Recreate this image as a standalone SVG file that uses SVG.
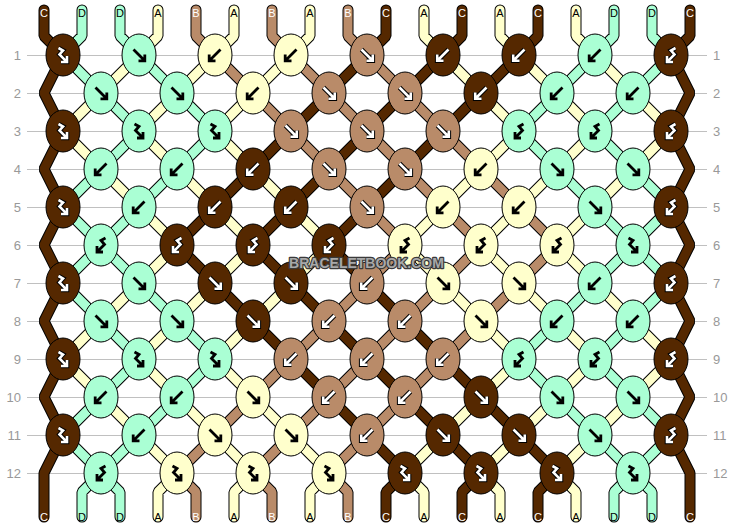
<svg xmlns="http://www.w3.org/2000/svg" xmlns:xlink="http://www.w3.org/1999/xlink" width="734" height="528" viewBox="0 0 734 528">
<style>
.C{fill:#552800}.B{fill:#b98b69}.A{fill:#ffffcc}.D{fill:#aaffd4}
.o{fill:none;stroke:#000;stroke-width:11;stroke-linejoin:bevel;stroke-linecap:round}
.s{fill:none;stroke-width:9;stroke-linejoin:bevel;stroke-linecap:round}
.sC{stroke:#552800}.sB{stroke:#b98b69}.sA{stroke:#ffffcc}.sD{stroke:#aaffd4}
.rl{stroke:#c0c0c0;stroke-width:1}
.rn{font-family:"Liberation Sans",Arial,sans-serif;font-size:13px;fill:#999}
.lb{font-family:"Liberation Sans",Arial,sans-serif;font-size:11px;text-anchor:middle}
.lw{fill:#fff}.lk{fill:#000}
.wm{font-family:"Liberation Sans",Arial,sans-serif;font-size:14px;font-weight:bold;text-anchor:middle;fill:#a8a8a8;stroke:#3a3a3a;stroke-width:2.4;paint-order:stroke;stroke-linejoin:round}
</style>
<defs>
<ellipse id="e" rx="17" ry="21" stroke="#000" stroke-width="1"/>
<path id="F" fill="none" stroke-linejoin="miter" d="M-5.5,-5.5L4.5,4.5M5.8,-0.5V5.8H-0.5"/>
<path id="B" fill="none" stroke-linejoin="miter" d="M5.5,-5.5L-4.5,4.5M-5.8,-0.5V5.8H0.5"/>
<path id="FB" fill="none" stroke-linejoin="miter" d="M-4.5,-7L0,-4.5L-3.5,-0.5L2.8,5.8M4,1V7H-2"/>
<path id="BF" fill="none" stroke-linejoin="miter" d="M4.5,-7L0,-4.5L3.5,-0.5L-2.8,5.8M-4,1V7H2"/>
<g id="kF"><use xlink:href="#F" stroke="#000" stroke-width="2.8"/></g>
<g id="kB"><use xlink:href="#B" stroke="#000" stroke-width="2.8"/></g>
<g id="kFB"><use xlink:href="#FB" stroke="#000" stroke-width="2.8"/></g>
<g id="kBF"><use xlink:href="#BF" stroke="#000" stroke-width="2.8"/></g>
<g id="wF"><use xlink:href="#F" stroke="#000" stroke-width="4.6"/><use xlink:href="#F" stroke="#fff" stroke-width="2.6"/></g>
<g id="wB"><use xlink:href="#B" stroke="#000" stroke-width="4.6"/><use xlink:href="#B" stroke="#fff" stroke-width="2.6"/></g>
<g id="wFB"><use xlink:href="#FB" stroke="#000" stroke-width="4.6"/><use xlink:href="#FB" stroke="#fff" stroke-width="2.6"/></g>
<g id="wBF"><use xlink:href="#BF" stroke="#000" stroke-width="4.6"/><use xlink:href="#BF" stroke="#fff" stroke-width="2.6"/></g>
<path id="tE" d="M44,10V36L63,55L44,93L63,131L44,169L63,207L44,245L63,283L44,321L63,359L44,397L63,435L44,473V517M690,10V36L671,55L690,93L671,131L690,169L671,207L690,245L671,283L690,321L671,359L690,397L671,435L690,473V517"/>
<path id="tC" d="M367,55l-38,38M443,55l-38,38M519,55l-38,38M329,93l-38,38M405,93l-38,38M481,93l-38,38M291,131l-38,38M367,131l-38,38M443,131l-38,38M253,169l-38,38M329,169l-38,38M405,169l-38,38M215,207l-38,38M291,207l-38,38M367,207l-38,38M177,245l38,38M253,245l38,38M329,245l38,38M215,283l38,38M291,283l38,38M367,283l38,38M253,321l38,38M329,321l38,38M405,321l38,38M291,359l38,38M367,359l38,38M443,359l38,38M329,397l38,38M405,397l38,38M481,397l38,38M367,435l38,38M443,435l38,38M519,435l38,38M386,10V36L367,55M462,10V36L443,55M538,10V36L519,55M405,473L386,492V517M481,473L462,492V517M557,473L538,492V517"/>
<path id="tB" d="M215,55l38,38M291,55l38,38M367,55l38,38M253,93l38,38M329,93l38,38M405,93l38,38M291,131l38,38M367,131l38,38M443,131l38,38M329,169l38,38M405,169l38,38M481,169l38,38M367,207l38,38M443,207l38,38M519,207l38,38M405,245l-38,38M481,245l-38,38M557,245l-38,38M367,283l-38,38M443,283l-38,38M519,283l-38,38M329,321l-38,38M405,321l-38,38M481,321l-38,38M291,359l-38,38M367,359l-38,38M443,359l-38,38M253,397l-38,38M329,397l-38,38M405,397l-38,38M215,435l-38,38M291,435l-38,38M367,435l-38,38M196,10V36L215,55M272,10V36L291,55M348,10V36L367,55M177,473L196,492V517M253,473L272,492V517M329,473L348,492V517"/>
<path id="tA" d="M139,55l-38,38M215,55l-38,38M291,55l-38,38M443,55l38,38M519,55l38,38M595,55l38,38M101,93l-38,38M177,93l-38,38M253,93l-38,38M481,93l38,38M557,93l38,38M633,93l38,38M63,131l38,38M139,131l38,38M215,131l38,38M519,131l-38,38M595,131l-38,38M671,131l-38,38M101,169l38,38M177,169l38,38M253,169l38,38M481,169l-38,38M557,169l-38,38M633,169l-38,38M139,207l38,38M215,207l38,38M291,207l38,38M443,207l-38,38M519,207l-38,38M595,207l-38,38M177,245l-38,38M253,245l-38,38M329,245l-38,38M405,245l38,38M481,245l38,38M557,245l38,38M139,283l-38,38M215,283l-38,38M291,283l-38,38M443,283l38,38M519,283l38,38M595,283l38,38M101,321l-38,38M177,321l-38,38M253,321l-38,38M481,321l38,38M557,321l38,38M633,321l38,38M63,359l38,38M139,359l38,38M215,359l38,38M519,359l-38,38M595,359l-38,38M671,359l-38,38M101,397l38,38M177,397l38,38M253,397l38,38M481,397l-38,38M557,397l-38,38M633,397l-38,38M139,435l38,38M215,435l38,38M291,435l38,38M443,435l-38,38M519,435l-38,38M595,435l-38,38M158,10V36L139,55M234,10V36L215,55M310,10V36L291,55M424,10V36L443,55M500,10V36L519,55M576,10V36L595,55M177,473L158,492V517M253,473L234,492V517M329,473L310,492V517M405,473L424,492V517M481,473L500,492V517M557,473L576,492V517"/>
<path id="tD" d="M63,55l38,38M139,55l38,38M595,55l-38,38M671,55l-38,38M101,93l38,38M177,93l38,38M557,93l-38,38M633,93l-38,38M139,131l-38,38M215,131l-38,38M519,131l38,38M595,131l38,38M101,169l-38,38M177,169l-38,38M557,169l38,38M633,169l38,38M63,207l38,38M139,207l-38,38M595,207l38,38M671,207l-38,38M101,245l-38,38M101,245l38,38M633,245l-38,38M633,245l38,38M63,283l38,38M139,283l38,38M595,283l-38,38M671,283l-38,38M101,321l38,38M177,321l38,38M557,321l-38,38M633,321l-38,38M139,359l-38,38M215,359l-38,38M519,359l38,38M595,359l38,38M101,397l-38,38M177,397l-38,38M557,397l38,38M633,397l38,38M63,435l38,38M139,435l-38,38M595,435l38,38M671,435l-38,38M82,10V36L63,55M120,10V36L139,55M614,10V36L595,55M652,10V36L671,55M101,473L82,492V517M101,473L120,492V517M633,473L614,492V517M633,473L652,492V517"/>
</defs>
<rect width="734" height="528" fill="#fff"/>
<g id="rows">
<path class="rl" d="M27,55.5H707M27,93.5H707M27,131.5H707M27,169.5H707M27,207.5H707M27,245.5H707M27,283.5H707M27,321.5H707M27,359.5H707M27,397.5H707M27,435.5H707M27,473.5H707"/>
<g class="rn" text-anchor="end"><text x="21" y="60">1</text><text x="21" y="98">2</text><text x="21" y="136">3</text><text x="21" y="174">4</text><text x="21" y="212">5</text><text x="21" y="250">6</text><text x="21" y="288">7</text><text x="21" y="326">8</text><text x="21" y="364">9</text><text x="21" y="402">10</text><text x="21" y="440">11</text><text x="21" y="478">12</text></g>
<g class="rn"><text x="713" y="60">1</text><text x="713" y="98">2</text><text x="713" y="136">3</text><text x="713" y="174">4</text><text x="713" y="212">5</text><text x="713" y="250">6</text><text x="713" y="288">7</text><text x="713" y="326">8</text><text x="713" y="364">9</text><text x="713" y="402">10</text><text x="713" y="440">11</text><text x="713" y="478">12</text></g>
</g>
<g id="connectors">
<use xlink:href="#tE" class="o"/><use xlink:href="#tC" class="o"/><use xlink:href="#tB" class="o"/><use xlink:href="#tA" class="o"/><use xlink:href="#tD" class="o"/>
<use xlink:href="#tE" class="s sC"/><use xlink:href="#tC" class="s sC"/><use xlink:href="#tB" class="s sB"/><use xlink:href="#tA" class="s sA"/><use xlink:href="#tD" class="s sD"/>
</g>
<g id="string-labels" class="lb">
<text class="lw" x="44" y="17">C</text><text class="lk" x="82" y="17">D</text><text class="lk" x="120" y="17">D</text><text class="lk" x="158" y="17">A</text><text class="lw" x="196" y="17">B</text><text class="lk" x="234" y="17">A</text><text class="lw" x="272" y="17">B</text><text class="lk" x="310" y="17">A</text><text class="lw" x="348" y="17">B</text><text class="lw" x="386" y="17">C</text><text class="lk" x="424" y="17">A</text><text class="lw" x="462" y="17">C</text><text class="lk" x="500" y="17">A</text><text class="lw" x="538" y="17">C</text><text class="lk" x="576" y="17">A</text><text class="lk" x="614" y="17">D</text><text class="lk" x="652" y="17">D</text><text class="lw" x="690" y="17">C</text>
<text class="lw" x="44" y="521">C</text><text class="lk" x="82" y="521">D</text><text class="lk" x="120" y="521">D</text><text class="lk" x="158" y="521">A</text><text class="lw" x="196" y="521">B</text><text class="lk" x="234" y="521">A</text><text class="lw" x="272" y="521">B</text><text class="lk" x="310" y="521">A</text><text class="lw" x="348" y="521">B</text><text class="lw" x="386" y="521">C</text><text class="lk" x="424" y="521">A</text><text class="lw" x="462" y="521">C</text><text class="lk" x="500" y="521">A</text><text class="lw" x="538" y="521">C</text><text class="lk" x="576" y="521">A</text><text class="lk" x="614" y="521">D</text><text class="lk" x="652" y="521">D</text><text class="lw" x="690" y="521">C</text>
</g>
<g id="knots">
<g id="k1-1" transform="translate(63,55)"><use xlink:href="#e" class="C"/><use xlink:href="#wFB"/></g>
<g id="k1-2" transform="translate(139,55)"><use xlink:href="#e" class="D"/><use xlink:href="#kF"/></g>
<g id="k1-3" transform="translate(215,55)"><use xlink:href="#e" class="A"/><use xlink:href="#kB"/></g>
<g id="k1-4" transform="translate(291,55)"><use xlink:href="#e" class="A"/><use xlink:href="#kB"/></g>
<g id="k1-5" transform="translate(367,55)"><use xlink:href="#e" class="B"/><use xlink:href="#wF"/></g>
<g id="k1-6" transform="translate(443,55)"><use xlink:href="#e" class="C"/><use xlink:href="#wB"/></g>
<g id="k1-7" transform="translate(519,55)"><use xlink:href="#e" class="C"/><use xlink:href="#wB"/></g>
<g id="k1-8" transform="translate(595,55)"><use xlink:href="#e" class="D"/><use xlink:href="#kB"/></g>
<g id="k1-9" transform="translate(671,55)"><use xlink:href="#e" class="C"/><use xlink:href="#wBF"/></g>
<g id="k2-1" transform="translate(101,93)"><use xlink:href="#e" class="D"/><use xlink:href="#kF"/></g>
<g id="k2-2" transform="translate(177,93)"><use xlink:href="#e" class="D"/><use xlink:href="#kF"/></g>
<g id="k2-3" transform="translate(253,93)"><use xlink:href="#e" class="A"/><use xlink:href="#kB"/></g>
<g id="k2-4" transform="translate(329,93)"><use xlink:href="#e" class="B"/><use xlink:href="#wF"/></g>
<g id="k2-5" transform="translate(405,93)"><use xlink:href="#e" class="B"/><use xlink:href="#wF"/></g>
<g id="k2-6" transform="translate(481,93)"><use xlink:href="#e" class="C"/><use xlink:href="#wB"/></g>
<g id="k2-7" transform="translate(557,93)"><use xlink:href="#e" class="D"/><use xlink:href="#kB"/></g>
<g id="k2-8" transform="translate(633,93)"><use xlink:href="#e" class="D"/><use xlink:href="#kB"/></g>
<g id="k3-1" transform="translate(63,131)"><use xlink:href="#e" class="C"/><use xlink:href="#wFB"/></g>
<g id="k3-2" transform="translate(139,131)"><use xlink:href="#e" class="D"/><use xlink:href="#kFB"/></g>
<g id="k3-3" transform="translate(215,131)"><use xlink:href="#e" class="D"/><use xlink:href="#kFB"/></g>
<g id="k3-4" transform="translate(291,131)"><use xlink:href="#e" class="B"/><use xlink:href="#wF"/></g>
<g id="k3-5" transform="translate(367,131)"><use xlink:href="#e" class="B"/><use xlink:href="#wF"/></g>
<g id="k3-6" transform="translate(443,131)"><use xlink:href="#e" class="B"/><use xlink:href="#wF"/></g>
<g id="k3-7" transform="translate(519,131)"><use xlink:href="#e" class="D"/><use xlink:href="#kBF"/></g>
<g id="k3-8" transform="translate(595,131)"><use xlink:href="#e" class="D"/><use xlink:href="#kBF"/></g>
<g id="k3-9" transform="translate(671,131)"><use xlink:href="#e" class="C"/><use xlink:href="#wBF"/></g>
<g id="k4-1" transform="translate(101,169)"><use xlink:href="#e" class="D"/><use xlink:href="#kB"/></g>
<g id="k4-2" transform="translate(177,169)"><use xlink:href="#e" class="D"/><use xlink:href="#kB"/></g>
<g id="k4-3" transform="translate(253,169)"><use xlink:href="#e" class="C"/><use xlink:href="#wB"/></g>
<g id="k4-4" transform="translate(329,169)"><use xlink:href="#e" class="B"/><use xlink:href="#wF"/></g>
<g id="k4-5" transform="translate(405,169)"><use xlink:href="#e" class="B"/><use xlink:href="#wF"/></g>
<g id="k4-6" transform="translate(481,169)"><use xlink:href="#e" class="A"/><use xlink:href="#kB"/></g>
<g id="k4-7" transform="translate(557,169)"><use xlink:href="#e" class="D"/><use xlink:href="#kF"/></g>
<g id="k4-8" transform="translate(633,169)"><use xlink:href="#e" class="D"/><use xlink:href="#kF"/></g>
<g id="k5-1" transform="translate(63,207)"><use xlink:href="#e" class="C"/><use xlink:href="#wFB"/></g>
<g id="k5-2" transform="translate(139,207)"><use xlink:href="#e" class="D"/><use xlink:href="#kB"/></g>
<g id="k5-3" transform="translate(215,207)"><use xlink:href="#e" class="C"/><use xlink:href="#wB"/></g>
<g id="k5-4" transform="translate(291,207)"><use xlink:href="#e" class="C"/><use xlink:href="#wB"/></g>
<g id="k5-5" transform="translate(367,207)"><use xlink:href="#e" class="B"/><use xlink:href="#wF"/></g>
<g id="k5-6" transform="translate(443,207)"><use xlink:href="#e" class="A"/><use xlink:href="#kB"/></g>
<g id="k5-7" transform="translate(519,207)"><use xlink:href="#e" class="A"/><use xlink:href="#kB"/></g>
<g id="k5-8" transform="translate(595,207)"><use xlink:href="#e" class="D"/><use xlink:href="#kF"/></g>
<g id="k5-9" transform="translate(671,207)"><use xlink:href="#e" class="C"/><use xlink:href="#wBF"/></g>
<g id="k6-1" transform="translate(101,245)"><use xlink:href="#e" class="D"/><use xlink:href="#kBF"/></g>
<g id="k6-2" transform="translate(177,245)"><use xlink:href="#e" class="C"/><use xlink:href="#wBF"/></g>
<g id="k6-3" transform="translate(253,245)"><use xlink:href="#e" class="C"/><use xlink:href="#wBF"/></g>
<g id="k6-4" transform="translate(329,245)"><use xlink:href="#e" class="C"/><use xlink:href="#wBF"/></g>
<g id="k6-5" transform="translate(405,245)"><use xlink:href="#e" class="A"/><use xlink:href="#kBF"/></g>
<g id="k6-6" transform="translate(481,245)"><use xlink:href="#e" class="A"/><use xlink:href="#kBF"/></g>
<g id="k6-7" transform="translate(557,245)"><use xlink:href="#e" class="A"/><use xlink:href="#kBF"/></g>
<g id="k6-8" transform="translate(633,245)"><use xlink:href="#e" class="D"/><use xlink:href="#kFB"/></g>
<g id="k7-1" transform="translate(63,283)"><use xlink:href="#e" class="C"/><use xlink:href="#wFB"/></g>
<g id="k7-2" transform="translate(139,283)"><use xlink:href="#e" class="D"/><use xlink:href="#kF"/></g>
<g id="k7-3" transform="translate(215,283)"><use xlink:href="#e" class="C"/><use xlink:href="#wF"/></g>
<g id="k7-4" transform="translate(291,283)"><use xlink:href="#e" class="C"/><use xlink:href="#wF"/></g>
<g id="k7-5" transform="translate(367,283)"><use xlink:href="#e" class="B"/><use xlink:href="#wB"/></g>
<g id="k7-6" transform="translate(443,283)"><use xlink:href="#e" class="A"/><use xlink:href="#kF"/></g>
<g id="k7-7" transform="translate(519,283)"><use xlink:href="#e" class="A"/><use xlink:href="#kF"/></g>
<g id="k7-8" transform="translate(595,283)"><use xlink:href="#e" class="D"/><use xlink:href="#kB"/></g>
<g id="k7-9" transform="translate(671,283)"><use xlink:href="#e" class="C"/><use xlink:href="#wBF"/></g>
<g id="k8-1" transform="translate(101,321)"><use xlink:href="#e" class="D"/><use xlink:href="#kF"/></g>
<g id="k8-2" transform="translate(177,321)"><use xlink:href="#e" class="D"/><use xlink:href="#kF"/></g>
<g id="k8-3" transform="translate(253,321)"><use xlink:href="#e" class="C"/><use xlink:href="#wF"/></g>
<g id="k8-4" transform="translate(329,321)"><use xlink:href="#e" class="B"/><use xlink:href="#wB"/></g>
<g id="k8-5" transform="translate(405,321)"><use xlink:href="#e" class="B"/><use xlink:href="#wB"/></g>
<g id="k8-6" transform="translate(481,321)"><use xlink:href="#e" class="A"/><use xlink:href="#kF"/></g>
<g id="k8-7" transform="translate(557,321)"><use xlink:href="#e" class="D"/><use xlink:href="#kB"/></g>
<g id="k8-8" transform="translate(633,321)"><use xlink:href="#e" class="D"/><use xlink:href="#kB"/></g>
<g id="k9-1" transform="translate(63,359)"><use xlink:href="#e" class="C"/><use xlink:href="#wFB"/></g>
<g id="k9-2" transform="translate(139,359)"><use xlink:href="#e" class="D"/><use xlink:href="#kFB"/></g>
<g id="k9-3" transform="translate(215,359)"><use xlink:href="#e" class="D"/><use xlink:href="#kFB"/></g>
<g id="k9-4" transform="translate(291,359)"><use xlink:href="#e" class="B"/><use xlink:href="#wB"/></g>
<g id="k9-5" transform="translate(367,359)"><use xlink:href="#e" class="B"/><use xlink:href="#wB"/></g>
<g id="k9-6" transform="translate(443,359)"><use xlink:href="#e" class="B"/><use xlink:href="#wB"/></g>
<g id="k9-7" transform="translate(519,359)"><use xlink:href="#e" class="D"/><use xlink:href="#kBF"/></g>
<g id="k9-8" transform="translate(595,359)"><use xlink:href="#e" class="D"/><use xlink:href="#kBF"/></g>
<g id="k9-9" transform="translate(671,359)"><use xlink:href="#e" class="C"/><use xlink:href="#wBF"/></g>
<g id="k10-1" transform="translate(101,397)"><use xlink:href="#e" class="D"/><use xlink:href="#kB"/></g>
<g id="k10-2" transform="translate(177,397)"><use xlink:href="#e" class="D"/><use xlink:href="#kB"/></g>
<g id="k10-3" transform="translate(253,397)"><use xlink:href="#e" class="A"/><use xlink:href="#kF"/></g>
<g id="k10-4" transform="translate(329,397)"><use xlink:href="#e" class="B"/><use xlink:href="#wB"/></g>
<g id="k10-5" transform="translate(405,397)"><use xlink:href="#e" class="B"/><use xlink:href="#wB"/></g>
<g id="k10-6" transform="translate(481,397)"><use xlink:href="#e" class="C"/><use xlink:href="#wF"/></g>
<g id="k10-7" transform="translate(557,397)"><use xlink:href="#e" class="D"/><use xlink:href="#kF"/></g>
<g id="k10-8" transform="translate(633,397)"><use xlink:href="#e" class="D"/><use xlink:href="#kF"/></g>
<g id="k11-1" transform="translate(63,435)"><use xlink:href="#e" class="C"/><use xlink:href="#wFB"/></g>
<g id="k11-2" transform="translate(139,435)"><use xlink:href="#e" class="D"/><use xlink:href="#kB"/></g>
<g id="k11-3" transform="translate(215,435)"><use xlink:href="#e" class="A"/><use xlink:href="#kF"/></g>
<g id="k11-4" transform="translate(291,435)"><use xlink:href="#e" class="A"/><use xlink:href="#kF"/></g>
<g id="k11-5" transform="translate(367,435)"><use xlink:href="#e" class="B"/><use xlink:href="#wB"/></g>
<g id="k11-6" transform="translate(443,435)"><use xlink:href="#e" class="C"/><use xlink:href="#wF"/></g>
<g id="k11-7" transform="translate(519,435)"><use xlink:href="#e" class="C"/><use xlink:href="#wF"/></g>
<g id="k11-8" transform="translate(595,435)"><use xlink:href="#e" class="D"/><use xlink:href="#kF"/></g>
<g id="k11-9" transform="translate(671,435)"><use xlink:href="#e" class="C"/><use xlink:href="#wBF"/></g>
<g id="k12-1" transform="translate(101,473)"><use xlink:href="#e" class="D"/><use xlink:href="#kBF"/></g>
<g id="k12-2" transform="translate(177,473)"><use xlink:href="#e" class="A"/><use xlink:href="#kFB"/></g>
<g id="k12-3" transform="translate(253,473)"><use xlink:href="#e" class="A"/><use xlink:href="#kFB"/></g>
<g id="k12-4" transform="translate(329,473)"><use xlink:href="#e" class="A"/><use xlink:href="#kFB"/></g>
<g id="k12-5" transform="translate(405,473)"><use xlink:href="#e" class="C"/><use xlink:href="#wFB"/></g>
<g id="k12-6" transform="translate(481,473)"><use xlink:href="#e" class="C"/><use xlink:href="#wFB"/></g>
<g id="k12-7" transform="translate(557,473)"><use xlink:href="#e" class="C"/><use xlink:href="#wFB"/></g>
<g id="k12-8" transform="translate(633,473)"><use xlink:href="#e" class="D"/><use xlink:href="#kFB"/></g>
</g>
<text class="wm" x="366.5" y="268">BRACELETBOOK.COM</text>
</svg>
